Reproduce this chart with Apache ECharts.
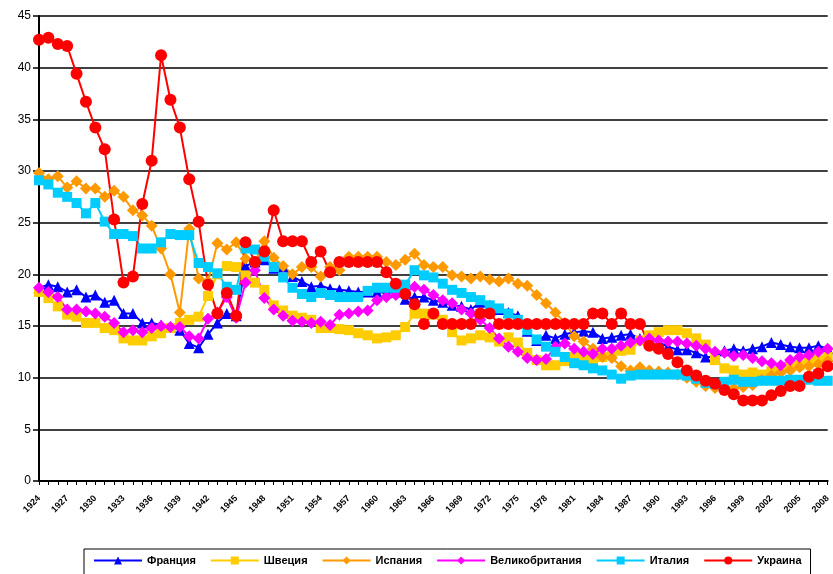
<!DOCTYPE html>
<html>
<head>
<meta charset="utf-8">
<script src="https://cdn.jsdelivr.net/npm/echarts@6/dist/echarts.min.js"></script>
<style>
  html, body { margin: 0; padding: 0; background: #fff; }
  #chart { width: 833px; height: 574px; }
</style>
</head>
<body>
<div id="chart"></div>
<script>
const years = [];
for (let y = 1924; y <= 2008; y++) years.push(String(y));

const france = [
  18.7, 19.0, 18.8, 18.3, 18.5, 17.8, 18.0, 17.3, 17.5, 16.2,
  16.2, 15.3, 15.3, 15.1, 14.9, 14.6, 13.3, 12.9, 14.2, 15.3,
  16.2, 16.0, 20.8, 21.2, 21.4, 20.6, 20.7, 19.8, 19.3, 18.8,
  18.9, 18.6, 18.5, 18.4, 18.3, 18.3, 18.3, 18.2, 18.3, 17.6,
  17.8, 17.8, 17.5, 17.3, 17.0, 16.9, 16.6, 17.3, 17.0, 16.6,
  16.3, 16.0, 14.5, 13.6, 14.1, 13.8, 14.2, 14.4, 14.5, 14.4,
  13.8, 13.9, 14.1, 14.2, 13.8, 13.8, 13.4, 13.0, 12.7, 12.7,
  12.4, 12.0, 12.0, 12.6, 12.8, 12.6, 12.8, 13.0, 13.4, 13.2,
  13.0, 12.9, 12.9, 13.1, 12.8
];
const sweden = [
  18.3, 17.7, 16.9, 16.1, 15.9, 15.3, 15.3, 14.8, 14.6, 13.8,
  13.6, 13.6, 14.0, 14.3, 14.8, 15.3, 15.6, 15.9, 17.9, 20.0,
  20.8, 20.7, 19.9, 19.2, 18.5, 17.0, 16.5, 16.0, 15.8, 15.6,
  14.8, 14.8, 14.7, 14.6, 14.3, 14.1, 13.8, 13.9, 14.1, 14.9,
  16.2, 16.2, 16.1, 15.6, 14.4, 13.6, 13.8, 14.1, 13.9, 13.5,
  13.9, 13.4, 12.4, 11.7, 11.2, 11.2, 11.6, 12.0, 11.9, 11.8,
  12.0, 12.3, 12.6, 12.7, 13.6, 14.1, 14.4, 14.6, 14.6, 14.3,
  13.8, 13.2, 11.7, 10.9, 10.7, 10.3, 10.5, 10.3, 10.6, 10.8,
  11.0, 11.2, 11.7, 11.7, 12.0
];
const spain = [
  29.8, 29.2, 29.5, 28.4, 29.0, 28.3, 28.3, 27.5, 28.1, 27.5,
  26.2, 25.7, 24.7, 22.5, 20.0, 16.3, 24.4, 19.6, 19.3, 23.0,
  22.4, 23.1, 21.5, 21.2, 23.2, 21.6, 20.8, 20.0, 20.7, 20.7,
  19.8, 20.7, 20.4, 21.7, 21.7, 21.7, 21.7, 21.2, 20.9, 21.4,
  22.0, 20.9, 20.7, 20.7, 19.9, 19.8, 19.6, 19.8, 19.5, 19.3,
  19.6, 19.1, 18.9, 18.0, 17.2, 16.3, 15.3, 14.0, 13.5, 12.8,
  12.0, 11.9, 11.1, 10.7, 11.0, 10.7, 10.6, 10.5, 10.3, 10.0,
  9.6, 9.2, 9.0, 8.9, 9.0, 9.1, 9.3, 9.8, 10.2, 10.5,
  10.7, 11.0, 11.1, 11.3, 11.6
];
const britain = [
  18.7, 18.3, 17.8, 16.6, 16.6, 16.4, 16.2, 15.9, 15.3, 14.4,
  14.6, 14.4, 14.8, 15.0, 14.9, 14.9, 14.0, 13.8, 15.7, 16.3,
  17.8, 15.8, 19.2, 20.4, 17.7, 16.6, 16.0, 15.5, 15.4, 15.3,
  15.4, 15.1, 16.1, 16.2, 16.4, 16.5, 17.5, 17.8, 18.0, 18.2,
  18.8, 18.5, 18.0, 17.5, 17.2, 16.6, 16.2, 15.6, 14.8, 13.8,
  13.0, 12.5, 11.9, 11.7, 11.8, 13.0, 13.3, 12.8, 12.5, 12.3,
  12.8, 12.8, 13.1, 13.4, 13.6, 13.8, 13.6, 13.5, 13.5, 13.3,
  13.1, 12.8, 12.5, 12.4, 12.1, 12.2, 11.9, 11.6, 11.4, 11.2,
  11.7, 12.0, 12.2, 12.5, 12.8
];
const italy = [
  29.1, 28.7, 27.9, 27.5, 26.9, 25.9, 26.9, 25.1, 23.9, 23.9,
  23.7, 22.5, 22.5, 23.1, 23.9, 23.8, 23.8, 21.1, 20.7, 20.1,
  18.8, 18.5, 22.5, 22.4, 21.7, 20.7, 19.7, 18.7, 18.1, 17.8,
  18.2, 18.0, 17.8, 17.8, 17.8, 18.4, 18.7, 18.7, 18.7, 19.0,
  20.4, 19.9, 19.7, 19.1, 18.5, 18.2, 17.8, 17.5, 17.0, 16.7,
  16.2, 15.6, 14.6, 13.7, 13.0, 12.5, 12.0, 11.4, 11.2, 10.9,
  10.7, 10.3, 9.9, 10.2, 10.3, 10.3, 10.3, 10.3, 10.3, 10.2,
  9.9, 9.5, 9.4, 9.6, 9.8, 9.6, 9.6, 9.7, 9.7, 9.7,
  9.8, 9.8, 9.8, 9.7, 9.7
];
const ukraine = [
  42.7, 42.9, 42.3, 42.1, 39.4, 36.7, 34.2, 32.1, 25.3, 19.2,
  19.8, 26.8, 31.0, 41.2, 36.9, 34.2, 29.2, 25.1, 19.0, 16.2,
  18.2, 16.0, 23.1, 21.2, 22.2, 26.2, 23.2, 23.2, 23.2, 21.2,
  22.2, 20.2, 21.2, 21.2, 21.2, 21.2, 21.2, 20.2, 19.1, 18.1,
  17.1, 15.2, 16.2, 15.2, 15.2, 15.2, 15.2, 16.2, 16.2, 15.2,
  15.2, 15.2, 15.2, 15.2, 15.2, 15.2, 15.2, 15.2, 15.2, 16.2,
  16.2, 15.2, 16.2, 15.2, 15.2, 13.1, 12.8, 12.3, 11.5, 10.7,
  10.2, 9.7, 9.4, 8.8, 8.4, 7.8, 7.8, 7.8, 8.3, 8.7,
  9.2, 9.2, 10.1, 10.4, 11.1
];

const seriesDefs = [
  { name: 'Франция', data: france, color: '#0000FF', symbol: 'triangle', size: 11 },
  { name: 'Швеция', data: sweden, color: '#FFCC00', symbol: 'rect', size: 10 },
  { name: 'Испания', data: spain, color: '#FF9900', symbol: 'diamond', size: 12 },
  { name: 'Великобритания', data: britain, color: '#FF00FF', symbol: 'diamond', size: 12 },
  { name: 'Италия', data: italy, color: '#00CCFF', symbol: 'rect', size: 10 },
  { name: 'Украина', data: ukraine, color: '#FF0000', symbol: 'circle', size: 12 }
];

const chart = echarts.init(document.getElementById('chart'));

chart.setOption({
  animation: false,
  backgroundColor: '#fff',
  grid: { left: 39, right: 0, top: 16, bottom: 93 },
  legend: {
    left: 84,
    top: 549,
    padding: [6, 9, 10, 9],
    itemWidth: 48,
    itemHeight: 10,
    itemGap: 14,
    borderColor: '#000',
    borderWidth: 1,
    textStyle: { fontFamily: 'Liberation Sans, Arial', fontSize: 11, fontWeight: 'bold', color: '#000' },
    data: seriesDefs.map(s => s.name)
  },
  xAxis: {
    type: 'category',
    data: years,
    boundaryGap: false,
    axisLine: { lineStyle: { color: '#000', width: 2 } },
    axisTick: { interval: 0, length: 4, lineStyle: { color: '#000', width: 1 } },
    axisLabel: {
      interval: 2,
      rotate: 45,
      margin: 16,
      color: '#000',
      fontSize: 9,
      fontWeight: 'bold',
      fontFamily: 'Liberation Sans, Arial'
    },
    splitLine: { show: false }
  },
  yAxis: {
    type: 'value',
    min: 0,
    max: 45,
    interval: 5,
    axisLine: { show: true, lineStyle: { color: '#000', width: 2 } },
    axisTick: { show: true, length: 6, lineStyle: { color: '#000', width: 1.5 } },
    axisLabel: { color: '#000', fontSize: 12, fontFamily: 'Liberation Sans, Arial', margin: 8 },
    splitLine: { lineStyle: { color: '#000', width: 1.5 } }
  },
  series: seriesDefs.map(s => ({
    name: s.name,
    type: 'line',
    data: s.data,
    symbol: s.symbol,
    symbolSize: s.size,
    showAllSymbol: true,
    color: s.color,
    lineStyle: { width: 2, color: s.color },
    itemStyle: { color: s.color, borderWidth: 0 },
    emphasis: { disabled: true }
  }))
});
</script>
</body>
</html>
